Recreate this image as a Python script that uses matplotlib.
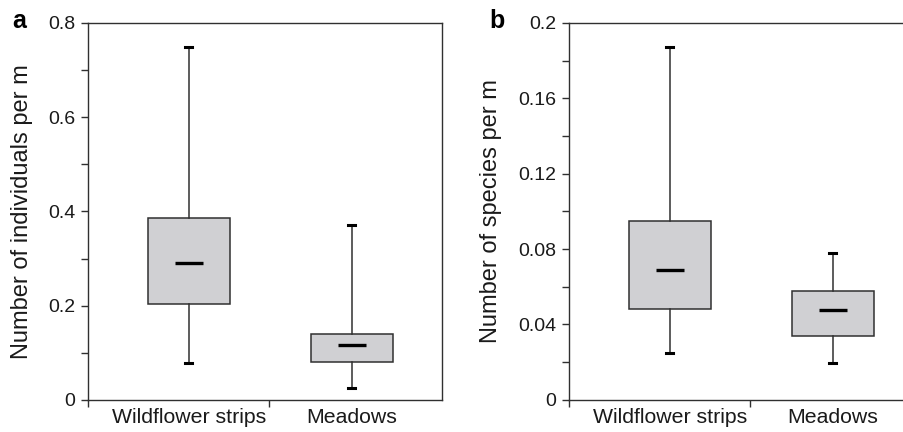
import matplotlib
matplotlib.use("Agg")
import matplotlib.pyplot as plt
from matplotlib.ticker import MultipleLocator, FuncFormatter

plt.rcParams['font.family'] = ['Liberation Sans', 'DejaVu Sans']

# Data
groups = ['Wildflower strips', 'Meadows']

# Panel a: individuals per m
ind_whislo = [0.078, 0.025]
ind_q1 = [0.203, 0.080]
ind_med = [0.290, 0.117]
ind_q3 = [0.386, 0.141]
ind_whishi = [0.748, 0.371]

# Panel b: species per m
spp_whislo = [0.025, 0.0195]
spp_q1 = [0.048, 0.034]
spp_med = [0.069, 0.0476]
spp_q3 = [0.0947, 0.0579]
spp_whishi = [0.187, 0.078]

positions = [0.57, 1.49]
box_fill = '#d0d0d3'
edge = '#303030'


def fmt(v, _):
    if abs(v) < 1e-12:
        return '0'
    return ('%g' % round(v, 4))


def draw_panel(ax, lo, q1, med, q3, hi, ymax, major, minor, ylabel, label_x):
    stats = []
    for i, g in enumerate(groups):
        stats.append(dict(label=g, whislo=lo[i], q1=q1[i], med=med[i],
                          q3=q3[i], whishi=hi[i], fliers=[]))
    ax.bxp(stats, positions=positions, widths=0.465, patch_artist=True,
           showfliers=False, capwidths=0.04,
           boxprops=dict(facecolor=box_fill, edgecolor=edge, linewidth=1.1),
           whiskerprops=dict(color=edge, linewidth=1.1),
           capprops=dict(color='black', linewidth=2.2),
           medianprops=dict(visible=False))
    # short thick median bars
    ax.plot(positions, med, linestyle='none', marker='_', markersize=20,
            markeredgewidth=2.4, color='black', zorder=5)

    ax.set_xlim(0, 2)
    ax.set_ylim(0, ymax)
    ax.set_xticks([0, 1.02])
    ax.set_xticklabels(['', ''])
    ax.set_xticks(positions, minor=True)
    ax.set_xticklabels(groups, minor=True, fontsize=15.3, color='#1a1a1a')
    ax.tick_params(axis='x', which='minor', length=0, pad=6)
    ax.tick_params(axis='x', which='major', length=5, direction='out',
                   width=1, color=edge)

    ax.yaxis.set_major_locator(MultipleLocator(major))
    ax.yaxis.set_minor_locator(MultipleLocator(minor))
    ax.yaxis.set_major_formatter(FuncFormatter(fmt))
    ax.tick_params(axis='y', which='both', direction='out', length=5,
                   width=1, color=edge, labelsize=14, pad=4,
                   labelcolor='#1a1a1a')
    ax.set_ylabel(ylabel, fontsize=17, color='#1a1a1a')
    ax.yaxis.set_label_coords(label_x, 0.5)
    for s in ax.spines.values():
        s.set_color(edge)
        s.set_linewidth(1.0)


fig = plt.figure(figsize=(9.04, 4.32), dpi=100)
ax_a = fig.add_axes([0.0973, 0.0741, 0.3916, 0.8727])
ax_b = fig.add_axes([0.6294, 0.0748, 0.3916, 0.8720])

draw_panel(ax_a, ind_whislo, ind_q1, ind_med, ind_q3, ind_whishi,
           0.8, 0.2, 0.1, 'Number of individuals per m', -0.155)
draw_panel(ax_b, spp_whislo, spp_q1, spp_med, spp_q3, spp_whishi,
           0.2, 0.04, 0.02, 'Number of species per m', -0.188)

fig.text(0.014, 1 - 28 / 432, 'a', fontsize=18, fontweight='bold',
         va='baseline')
fig.text(0.541, 1 - 28 / 432, 'b', fontsize=18, fontweight='bold',
         va='baseline')

fig.savefig('out.png', dpi=100)
